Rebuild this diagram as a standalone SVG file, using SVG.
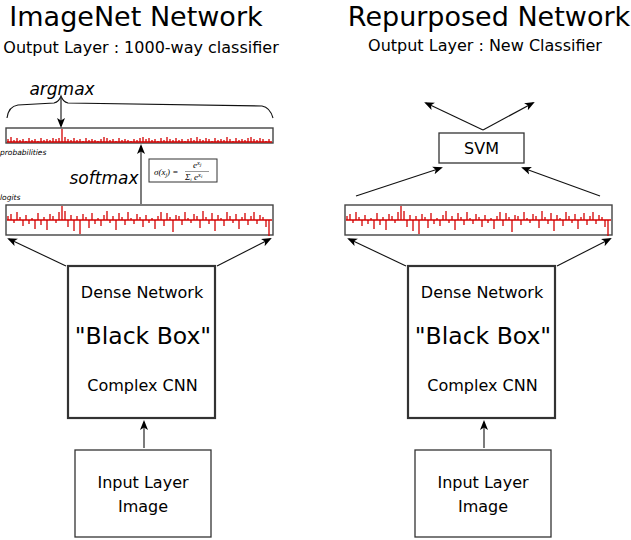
<svg xmlns="http://www.w3.org/2000/svg" xmlns:xlink="http://www.w3.org/1999/xlink" width="631" height="540" viewBox="0 0 631 540">
<style>
text{font-family:"DejaVu Sans","Liberation Sans",sans-serif;fill:#000}
.title{font-size:27px}
.sub{font-size:16px}
.lbl{font-size:16px}
.big{font-size:23.5px}
.it{font-style:italic}
.box{fill:#fff;stroke:#333;stroke-width:1.3}
.tbox{fill:#fff;stroke:#333;stroke-width:2.2}
.con{fill:none;stroke:#111;stroke-width:1.1}
.bar{fill:#fff;stroke:#444;stroke-width:1.4}
.red{fill:none;stroke:#d40000;stroke-width:1.3}
.f{font-family:"Liberation Serif",serif;font-style:italic;font-size:9px}
</style>
<defs>
<marker id="ah" markerWidth="10" markerHeight="10" refX="8" refY="5" orient="auto" markerUnits="userSpaceOnUse" viewBox="0 0 10 10">
<path d="M0,1 L10,5 L0,9 L2.5,5 Z" fill="#000"/>
</marker>
<g id="logitstrip">
<rect class="bar" x="6" y="205" width="267" height="30"/>
<path class="red" d="M7,220H272" stroke-width="0.8"/>
<path class="red" d="M8,220v-4M11,220v-6M14,220v3M17,220v-8M20,220v-3M23,220v6M26,220v-5M29,220v4M32,220v-2M35,220v9M38,220v-7M41,220v5M44,220v-3M47,220v10M50,220v-6M53,220v-4M56,220v3M59,220v-8M62,220v-14M65,220v-9M68,220v7M71,220v-5M74,220v11M77,220v-4M80,220v14M83,220v-6M86,220v-3M89,220v8M92,220v-7M95,220v4M98,220v-2M101,220v6M104,220v-5M107,220v-9M110,220v3M113,220v-4M116,220v10M119,220v-7M122,220v-3M125,220v5M128,220v-8M131,220v-2M134,220v4M137,220v-6M140,220v-3M143,220v7M146,220v-5M149,220v3M152,220v-2M155,220v9M158,220v-4M161,220v-8M164,220v6M167,220v-7M170,220v-3M173,220v12M176,220v-5M179,220v-4M182,220v5M185,220v-8M188,220v-2M191,220v3M194,220v-6M197,220v-4M200,220v8M203,220v-9M206,220v-3M209,220v4M212,220v-7M215,220v11M218,220v-5M221,220v-2M224,220v6M227,220v-8M230,220v-4M233,220v3M236,220v-6M239,220v9M242,220v-3M245,220v-7M248,220v5M251,220v-4M254,220v-8M257,220v4M260,220v-5M263,220v-3M266,220v7M269,220v16"/>
</g>
</defs>

<g id="title-left"><text class="title" x="136" y="26" text-anchor="middle">ImageNet Network</text>
<text class="sub" x="141" y="53" text-anchor="middle">Output Layer : 1000-way classifier</text></g>
<g id="title-right"><text class="title" x="489" y="26" text-anchor="middle">Repurposed Network</text>
<text class="sub" x="485" y="51" text-anchor="middle">Output Layer : New Classifier</text></g>

<g id="probabilities">
<rect class="bar" x="6" y="128" width="267" height="15"/>
<path class="red" d="M7,142H272" stroke-width="0.8"/>
<path class="red" d="M8,142v-3M11,142v-5M14,142v-2M17,142v-4M20,142v-2M23,142v-3M26,142v-1M29,142v-4M32,142v-2M35,142v-3M38,142v-1M41,142v-4M44,142v-2M47,142v-3M50,142v-2M53,142v-4M56,142v-3M59,142v-4M62,142v-13M65,142v-5M68,142v-3M71,142v-2M74,142v-4M77,142v-2M80,142v-3M83,142v-1M86,142v-4M89,142v-2M92,142v-3M95,142v-2M98,142v-1M101,142v-3M104,142v-5M107,142v-4M110,142v-2M113,142v-3M116,142v-1M119,142v-4M122,142v-2M125,142v-3M128,142v-2M131,142v-1M134,142v-3M137,142v-2M140,142v-4M143,142v-5M146,142v-3M149,142v-4M152,142v-2M155,142v-3M158,142v-1M161,142v-4M164,142v-2M167,142v-5M170,142v-3M173,142v-2M176,142v-4M179,142v-2M182,142v-3M185,142v-1M188,142v-3M191,142v-4M194,142v-2M197,142v-5M200,142v-3M203,142v-2M206,142v-4M209,142v-3M212,142v-1M215,142v-4M218,142v-2M221,142v-3M224,142v-2M227,142v-5M230,142v-3M233,142v-1M236,142v-4M239,142v-2M242,142v-3M245,142v-2M248,142v-4M251,142v-5M254,142v-3M257,142v-2M260,142v-4M263,142v-3M266,142v-1M269,142v-3"/>
<text class="it" x="0" y="155" font-size="7.5">probabilities</text>
</g>

<g id="argmax">
<path class="con" d="M7,118 C8,110 11,106 18,105 L54,103 C58,102 60,99 61,96 C62,99 64,102 68,103 L262,106 C268,107 271,111 273,118" stroke-width="1"/>
<text class="it" x="62" y="95" font-size="17" text-anchor="middle">argmax</text>
</g>

<g id="logits">
<use xlink:href="#logitstrip"/>
<text class="it" x="0" y="200" font-size="7.5">logits</text>
</g>

<g id="softmax">
<text class="it" x="104" y="184" font-size="17" text-anchor="middle">softmax</text>
<rect x="149" y="159" width="68" height="23" fill="#fff" stroke="#333" stroke-width="1"/>
<text class="f" x="154" y="175">σ(x<tspan font-size="6" dy="1.5">j</tspan><tspan dy="-1.5">) =</tspan></text>
<text class="f" x="193" y="168">e<tspan font-size="6.5" dy="-3">x</tspan><tspan font-size="5" dy="1">j</tspan></text>
<path d="M185,171.5H209" stroke="#333" stroke-width="0.5"/>
<text class="f" x="185" y="180">Σ<tspan font-size="5" dy="1">i</tspan><tspan dy="-1"> e</tspan><tspan font-size="6.5" dy="-3">x</tspan><tspan font-size="5" dy="1">i</tspan></text>
</g>

<g id="repurposed-logits">
<use xlink:href="#logitstrip" transform="translate(339,0)"/>
</g>

<g id="svm">
<rect class="box" x="439" y="133" width="85" height="30"/>
<text class="lbl" x="481.5" y="154" text-anchor="middle">SVM</text>
</g>

<g id="dense-left">
<rect class="tbox" x="68" y="266" width="147" height="152"/>
<text class="lbl" x="142" y="298" text-anchor="middle">Dense Network</text>
<text class="big" x="143" y="344" text-anchor="middle">"Black Box"</text>
<text class="lbl" x="142.5" y="391" text-anchor="middle">Complex CNN</text>
</g>
<g id="dense-right">
<rect class="tbox" x="408" y="266" width="147" height="152"/>
<text class="lbl" x="482" y="298" text-anchor="middle">Dense Network</text>
<text class="big" x="483" y="344" text-anchor="middle">"Black Box"</text>
<text class="lbl" x="482.5" y="391" text-anchor="middle">Complex CNN</text>
</g>

<g id="input-left">
<rect class="box" x="75" y="450" width="136" height="87"/>
<text class="lbl" x="143" y="488" text-anchor="middle">Input Layer</text>
<text class="lbl" x="143" y="512" text-anchor="middle">Image</text>
</g>
<g id="input-right">
<rect class="box" x="415" y="450" width="136" height="87"/>
<text class="lbl" x="483" y="488" text-anchor="middle">Input Layer</text>
<text class="lbl" x="483" y="512" text-anchor="middle">Image</text>
</g>

<g id="connectors">
<path class="con" d="M144,448V422" marker-end="url(#ah)"/>
<path class="con" d="M484,448V422" marker-end="url(#ah)"/>
<path class="con" d="M66,266L9,239" marker-end="url(#ah)"/>
<path class="con" d="M217,266L270,239" marker-end="url(#ah)"/>
<path class="con" d="M406,266L349,239" marker-end="url(#ah)"/>
<path class="con" d="M557,266L610,239" marker-end="url(#ah)"/>
<path class="con" d="M141,204V146" marker-end="url(#ah)"/>
<path class="con" d="M61,98V126" marker-end="url(#ah)"/>
<path class="con" d="M356,196L441,168" marker-end="url(#ah)"/>
<path class="con" d="M600,196L523,168" marker-end="url(#ah)"/>
<path class="con" d="M483,130L426,103" marker-end="url(#ah)"/>
<path class="con" d="M483,130L533,103" marker-end="url(#ah)"/>
</g>
</svg>
